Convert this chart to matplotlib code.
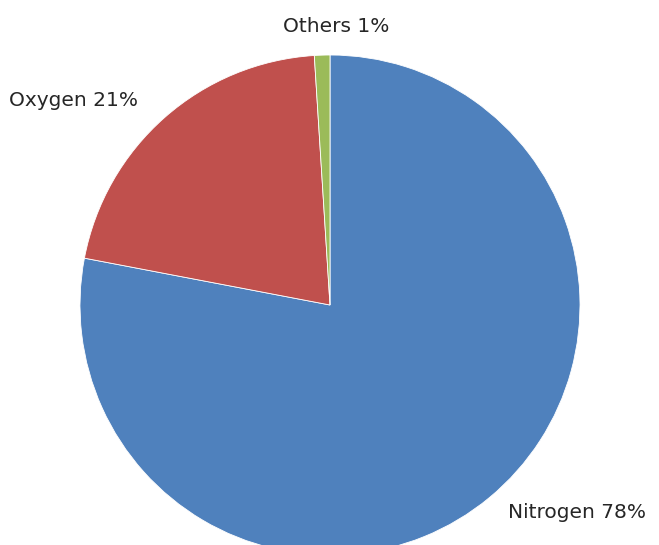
import matplotlib
matplotlib.use("Agg")
from matplotlib import pyplot as plt

labels = ["Nitrogen", "Oxygen", "Others"]
values = [78, 21, 1]
colors = ["#4F81BD", "#C0504D", "#9BBB59"]

W, H = 659, 545
fig = plt.figure(figsize=(W / 100, H / 100), dpi=100)
ax = fig.add_axes([0, 0, 1, 1])

# pie in pixel units, clockwise from 12 o'clock
ax.pie(values, colors=colors, startangle=90, counterclock=False,
       radius=250, center=(330, H - 305), frame=True,
       wedgeprops=dict(edgecolor="white", linewidth=0.6))
ax.set_xlim(0, W)
ax.set_ylim(0, H)
ax.set_aspect("equal")
ax.axis("off")

# label left x, baseline y (pixels from top)
pos = {"Nitrogen": (508, 518),
       "Oxygen": (9, 106),
       "Others": (283, 32)}
for lab, v in zip(labels, values):
    x, y = pos[lab]
    ax.text(x, H - y, f"{lab} {v}%", ha="left", va="baseline",
            family="DejaVu Sans", fontsize=14.5, color="#262626")

fig.savefig("out.png", dpi=100)
